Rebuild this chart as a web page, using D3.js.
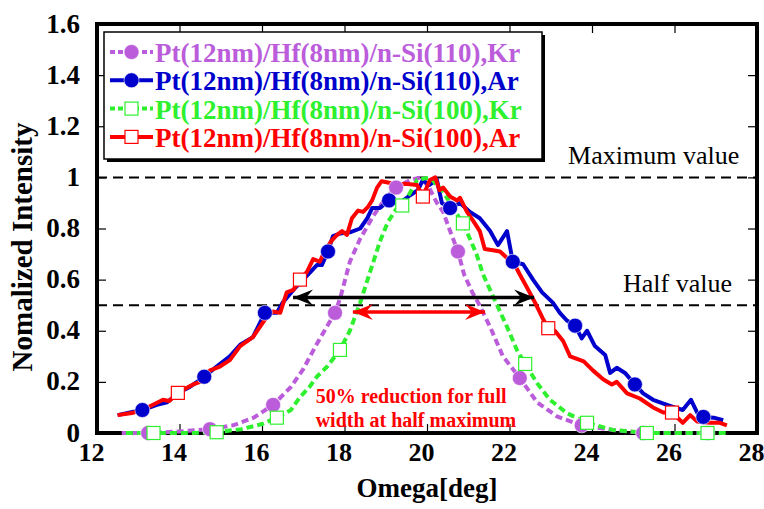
<!DOCTYPE html>
<html>
<head>
<meta charset="utf-8">
<script src="https://cdn.jsdelivr.net/npm/d3@7"></script>
<style>
  body { margin: 0; background: #fff; }
</style>
</head>
<body>
<svg id="svg" width="764" height="509"></svg>
<script>
// ---- data (omega [deg], normalized intensity) ----
var kr110 = [[12.6,0],[13.24,0],[14.0,0.006],[14.74,0.015],[15.3,0.03],[15.8,0.06],[16.27,0.11],[16.7,0.18],
  [17.0,0.25],[17.3,0.34],[17.55,0.41],[17.77,0.47],[17.9,0.53],[18.13,0.67],[18.38,0.76],[18.7,0.85],[19.0,0.92],
  [19.25,0.96],[19.6,0.99],[19.85,1.0],[20.05,0.96],[20.24,0.9],[20.39,0.865],[20.56,0.79],[20.75,0.71],
  [20.9,0.62],[21.1,0.55],[21.24,0.51],[21.53,0.415],[21.84,0.3],[22.25,0.215],[22.67,0.12],[23.15,0.065],
  [23.75,0.03],[24.5,0.012],[25.24,0],[26.0,0],[26.8,0],[27.0,0]];
var kr110Marks = [13.24,14.74,16.27,17.77,19.25,20.75,22.25,23.75,25.24,26.8];

var ar110 = [[12.5,0.07],[12.8,0.08],[13.1,0.09],[13.45,0.11],[13.7,0.12],[14.0,0.16],[14.25,0.18],[14.6,0.22],
  [14.9,0.26],[15.22,0.3],[15.47,0.345],[15.78,0.375],[16.07,0.47],[16.36,0.47],[16.5,0.51],[16.8,0.567],
  [17.0,0.6],[17.33,0.657],[17.45,0.657],[17.6,0.71],[17.72,0.77],[17.89,0.78],[18.13,0.785],[18.38,0.8],
  [18.55,0.84],[18.67,0.88],[18.86,0.88],[19.08,0.91],[19.35,0.9],[19.59,0.93],[19.78,0.95],[19.9,0.99],
  [20.05,0.97],[20.24,0.99],[20.36,0.9],[20.56,0.88],[20.8,0.9],[21.04,0.865],[21.28,0.84],[21.53,0.79],
  [21.72,0.735],[21.94,0.79],[22.08,0.67],[22.33,0.66],[22.57,0.6],[22.79,0.55],[23.05,0.51],[23.22,0.47],
  [23.39,0.44],[23.59,0.42],[23.75,0.37],[23.88,0.4],[24.07,0.34],[24.32,0.305],[24.44,0.235],[24.6,0.255],
  [24.8,0.235],[25.04,0.19],[25.24,0.155],[25.48,0.13],[25.82,0.11],[26.0,0.1],[26.2,0.09],[26.4,0.13],
  [26.55,0.08],[26.7,0.063],[26.95,0.06],[27.18,0.05]];
var ar110Marks = [13.1,14.6,16.07,17.6,19.08,20.56,22.08,23.59,25.04,26.7];

var kr100 = [[12.7,0],[13.37,0],[14.2,0],[14.9,0.003],[15.5,0.015],[16.0,0.035],[16.36,0.06],[16.7,0.09],
  [16.92,0.14],[17.15,0.18],[17.33,0.22],[17.58,0.26],[17.89,0.325],[18.13,0.4],[18.38,0.51],[18.62,0.63],
  [18.86,0.75],[19.05,0.825],[19.27,0.88],[19.4,0.89],[19.59,0.94],[19.76,0.99],[20.07,1.0],[20.39,0.945],
  [20.63,0.88],[20.87,0.82],[21.04,0.76],[21.2,0.7],[21.36,0.62],[21.53,0.56],[21.7,0.5],[21.94,0.415],
  [22.18,0.325],[22.38,0.27],[22.67,0.195],[22.98,0.13],[23.39,0.078],[23.88,0.04],[24.5,0.012],[25.33,0],
  [26.0,0],[26.8,0],[27.3,0]];
var kr100Marks = [13.37,14.9,16.36,17.89,19.4,20.87,22.38,23.88,25.33,26.8];

var ar100 = [[12.5,0.07],[12.85,0.078],[13.2,0.098],[13.6,0.13],[13.75,0.125],[13.96,0.157],[14.1,0.17],
  [14.33,0.19],[14.5,0.2],[14.74,0.245],[14.98,0.26],[15.22,0.285],[15.47,0.34],[15.78,0.375],[16.12,0.455],
  [16.27,0.475],[16.44,0.47],[16.6,0.55],[16.76,0.56],[16.92,0.6],[17.09,0.63],[17.24,0.68],[17.4,0.67],
  [17.53,0.715],[17.7,0.755],[17.82,0.775],[17.94,0.79],[18.06,0.775],[18.18,0.84],[18.33,0.87],[18.45,0.865],
  [18.57,0.885],[18.67,0.91],[18.79,0.96],[18.9,0.985],[19.05,0.98],[19.27,0.97],[19.47,0.975],[19.76,0.97],
  [19.9,0.925],[20.07,0.99],[20.2,1.0],[20.3,0.95],[20.39,0.96],[20.56,0.925],[20.73,0.91],[20.8,0.92],
  [20.97,0.865],[21.12,0.83],[21.28,0.79],[21.4,0.72],[21.6,0.715],[21.77,0.71],[21.94,0.685],[22.09,0.67],
  [22.25,0.62],[22.42,0.57],[22.62,0.51],[22.8,0.45],[22.94,0.41],[23.1,0.4],[23.3,0.36],[23.47,0.3],
  [23.8,0.28],[24.02,0.245],[24.27,0.21],[24.48,0.19],[24.6,0.2],[24.85,0.155],[25.16,0.135],[25.48,0.1],
  [25.73,0.08],[25.94,0.08],[26.2,0.04],[26.38,0.07],[26.55,0.045],[26.86,0.04],[27.1,0.04],[27.27,0.03]];
var ar100Marks = [13.96,16.92,19.9,22.94,25.94];

var seriesNames = ["Pt(12nm)/Hf(8nm)/n-Si(110),Kr", "Pt(12nm)/Hf(8nm)/n-Si(110),Ar",
                   "Pt(12nm)/Hf(8nm)/n-Si(100),Kr", "Pt(12nm)/Hf(8nm)/n-Si(100),Ar"];
var xTicks = [12, 14, 16, 18, 20, 22, 24, 26, 28];
var yTicks = [0, 0.2, 0.4, 0.6, 0.8, 1, 1.2, 1.4, 1.6];
var refLines = [{v: 1, label: "Maximum value", x: 23.42}, {v: 0.5, label: "Half value", x: 24.75}];
var fwhmArrows = [{x1: 16.68, x2: 22.67, y: 0.53, color: "#000"}, {x1: 18.13, x2: 21.48, y: 0.473, color: "#ff0000"}];
var noteLines = ["50% reduction for full", "width at half maximum"];

var series = [
  {name: seriesNames[0], data: kr110, marks: kr110Marks, color: "#bb5ddb", dash: "7,4", shape: "circle"},
  {name: seriesNames[1], data: ar110, marks: ar110Marks, color: "#0000cc", dash: null, shape: "circle"},
  {name: seriesNames[2], data: kr100, marks: kr100Marks, color: "#2ef02e", dash: "7,4", shape: "square"},
  {name: seriesNames[3], data: ar100, marks: ar100Marks, color: "#ff0000", dash: null, shape: "square"}
];

var svg = d3.select("#svg");
var x = d3.scaleLinear().domain([12, 28]).range([97, 757]);
var y = d3.scaleLinear().domain([0, 1.6]).range([433, 24]);
var fmt = function(d) { return d3.format("")(d); };

// ---- axes (ticks inward) ----
function minor(lo, hi, step) { return d3.range(lo, hi + step / 2, step); }

var gB = svg.append("g").attr("transform", "translate(0,433)");
gB.call(d3.axisBottom(x).tickValues(minor(12, 28, 0.5)).tickSize(-5).tickFormat(""));
gB.call(d3.axisBottom(x).tickValues(xTicks).tickSize(-9).tickFormat(fmt));
var gT = svg.append("g").attr("transform", "translate(0,24)");
gT.call(d3.axisTop(x).tickValues(minor(12, 28, 0.5)).tickSize(-5).tickFormat(""));
gT.call(d3.axisTop(x).tickValues(xTicks).tickSize(-9).tickFormat(""));
var gL = svg.append("g").attr("transform", "translate(97,0)");
gL.call(d3.axisLeft(y).tickValues(minor(0, 1.6, 0.05)).tickSize(-5).tickFormat(""));
gL.call(d3.axisLeft(y).tickValues(yTicks).tickSize(-9).tickFormat(fmt));
var gR = svg.append("g").attr("transform", "translate(757,0)");
gR.call(d3.axisRight(y).tickValues(minor(0, 1.6, 0.05)).tickSize(-5).tickFormat(""));
gR.call(d3.axisRight(y).tickValues(yTicks).tickSize(-9).tickFormat(""));

svg.selectAll(".domain").remove();
svg.selectAll(".tick line").attr("stroke", "#000").attr("stroke-width", 1.2);
svg.selectAll(".tick text").attr("fill", "#000").attr("font-size", 27).attr("font-weight", "bold");
gL.selectAll(".tick text").attr("x", -17).attr("dy", "0.3em");
gB.selectAll(".tick text").attr("font-size", 26).attr("x", -6).attr("y", 10).attr("dy", "0.71em");

svg.append("rect")
  .attr("x", x(12)).attr("y", y(1.6))
  .attr("width", x(28) - x(12)).attr("height", y(0) - y(1.6))
  .attr("fill", "none").attr("stroke", "#000").attr("stroke-width", 4);

// ---- reference lines ----
refLines.forEach(function(r) {
  svg.append("line")
    .attr("x1", x(12)).attr("x2", x(28)).attr("y1", y(r.v)).attr("y2", y(r.v))
    .attr("stroke", "#000").attr("stroke-width", 2).attr("stroke-dasharray", "10,6");
  svg.append("text")
    .attr("x", x(r.x)).attr("y", y(r.v) - 13)
    .attr("font-size", 26).attr("fill", "#000")
    .text(r.label);
});

// ---- series lines ----
var line = d3.line().x(function(d) { return x(d[0]); }).y(function(d) { return y(d[1]); });

series.forEach(function(s) {
  svg.append("path")
    .datum(s.data)
    .attr("d", line)
    .attr("fill", "none")
    .attr("stroke", s.color)
    .attr("stroke-width", 4)
    .attr("stroke-linejoin", "round")
    .attr("stroke-dasharray", s.dash);
});

function drawMarker(g, s, cx, cy) {
  if (s.shape == "circle") {
    g.append("circle").attr("cx", cx).attr("cy", cy).attr("r", 7.5)
      .attr("fill", s.color).attr("stroke", "#fff").attr("stroke-width", 0.6);
  } else {
    g.append("rect").attr("x", cx - 6.5).attr("y", cy - 6.5).attr("width", 13).attr("height", 13)
      .attr("fill", "#fff").attr("stroke", s.color).attr("stroke-width", 1.2);
  }
}

series.forEach(function(s) {
  var g = svg.append("g");
  s.data.filter(function(d) { return s.marks.indexOf(d[0]) >= 0; }).forEach(function(d) {
    drawMarker(g, s, x(d[0]), y(d[1]));
  });
});

// ---- FWHM arrows ----
var defs = svg.append("defs");
fwhmArrows.forEach(function(a, i) {
  defs.append("marker")
    .attr("id", "arr" + i)
    .attr("viewBox", "-20 -9 22 18")
    .attr("refX", 0).attr("refY", 0)
    .attr("markerUnits", "userSpaceOnUse")
    .attr("markerWidth", 22).attr("markerHeight", 18)
    .attr("orient", "auto-start-reverse")
    .append("path")
    .attr("d", "M0,0 L-20,-8 L-13,0 L-20,8 Z")
    .attr("fill", a.color);
  svg.append("line")
    .attr("x1", x(a.x1) + 3).attr("x2", x(a.x2) - 3)
    .attr("y1", y(a.y)).attr("y2", y(a.y))
    .attr("stroke", a.color).attr("stroke-width", 3.5)
    .attr("marker-start", "url(#arr" + i + ")")
    .attr("marker-end", "url(#arr" + i + ")");
});

svg.append("g").selectAll("text")
  .data(noteLines)
  .enter().append("text")
  .attr("x", x(17.3))
  .attr("y", function(d, i) { return 403 + i * 24; })
  .attr("font-size", 20).attr("font-weight", "bold").attr("fill", "#ff0000")
  .text(function(d) { return d; });

// ---- legend ----
var leg = svg.append("g").attr("transform", "translate(104,32)");
leg.append("rect").attr("x", 3).attr("y", 3).attr("width", 438).attr("height", 127).attr("fill", "#000");
leg.append("rect").attr("x", 0).attr("y", 0).attr("width", 438).attr("height", 127)
  .attr("fill", "#fff").attr("stroke", "#000").attr("stroke-width", 1.5);

series.forEach(function(s, i) {
  var cy = 20 + i * 28.3;
  leg.append("line").attr("x1", 6).attr("x2", 49).attr("y1", cy).attr("y2", cy)
    .attr("stroke", s.color).attr("stroke-width", 4).attr("stroke-dasharray", s.dash ? "5,3" : null);
  drawMarker(leg, s, 27.5, cy);
  leg.append("text").attr("x", 51).attr("y", cy + 10)
    .attr("font-size", 27).attr("font-weight", "bold").attr("fill", s.color)
    .text(s.name);
});

// ---- axis titles ----
svg.append("text")
  .attr("x", x(20)).attr("y", 497)
  .attr("text-anchor", "middle").attr("font-size", 27).attr("font-weight", "bold")
  .text("Omega[deg]");
svg.append("text")
  .attr("transform", "translate(32,247) rotate(-90)")
  .attr("text-anchor", "middle").attr("font-size", 29).attr("font-weight", "bold")
  .text("Nomalized Intensity");

// serif everywhere (inline style, so it wins over the axis defaults)
svg.selectAll("text").style("font-family", "'Liberation Serif'");
</script>
</body>
</html>
